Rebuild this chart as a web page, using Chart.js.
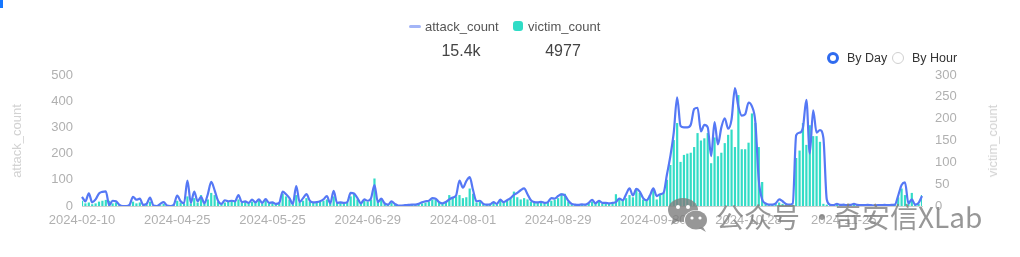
<!DOCTYPE html>
<html>
<head>
<meta charset="utf-8">
<script src="https://cdn.jsdelivr.net/npm/chart.js@4"></script>
<style>
  html,body{margin:0;padding:0;background:#fff;}
  #wrap{position:relative;width:1020px;height:257px;overflow:hidden;font-family:"Liberation Sans",Arial,sans-serif;}
  #c{position:absolute;left:0;top:0;}
  .abs{position:absolute;white-space:nowrap;}
  .lg{font-size:13px;color:#555;line-height:14px;}
  .tot{font-size:16px;color:#444;line-height:18px;transform:translateX(-50%);}
  .rad{font-size:12.5px;color:#333;line-height:14px;}
  .atitle{font-size:13px;color:#d2d2d2;line-height:14px;transform:translate(-50%,-50%) rotate(-90deg);}
  .wm{font-family:"Noto Sans CJK SC",sans-serif;font-size:28px;line-height:30px;color:rgba(125,125,125,0.8);}
</style>
</head>
<body>
<div id="wrap">
  <canvas id="c" width="1020" height="257"></canvas>
  <div class="abs" style="left:0;top:0;width:3px;height:8px;background:#1677ff;"></div>
  <!-- legend -->
  <div class="abs" style="left:409px;top:25px;width:12px;height:3px;border-radius:2px;background:#a3b5f7;"></div>
  <div class="abs lg" style="left:425px;top:20px;">attack_count</div>
  <div class="abs" style="left:513px;top:21px;width:10px;height:10px;border-radius:3px;background:#2fdcc6;"></div>
  <div class="abs lg" style="left:528px;top:20px;">victim_count</div>
  <div class="abs tot" style="left:461px;top:42px;">15.4k</div>
  <div class="abs tot" style="left:563px;top:42px;">4977</div>
  <!-- radio -->
  <div class="abs" style="left:827px;top:52px;width:12px;height:12px;box-sizing:border-box;border:3.5px solid #2f6bef;border-radius:50%;background:#fff;"></div>
  <div class="abs rad" style="left:847px;top:51px;">By Day</div>
  <div class="abs" style="left:892px;top:52px;width:12px;height:12px;box-sizing:border-box;border:1px solid #cfcfcf;border-radius:50%;background:#fff;"></div>
  <div class="abs rad" style="left:912px;top:51px;">By Hour</div>
  <!-- axis titles -->
  <div class="abs atitle" style="left:17px;top:141px;">attack_count</div>
  <div class="abs atitle" style="left:993px;top:141px;">victim_count</div>
  <!-- watermark -->
  <svg class="abs" style="left:667px;top:197px;" width="42" height="36" viewBox="0 0 42 36">
    <ellipse cx="16" cy="13" rx="15" ry="12" fill="rgba(125,125,125,0.8)"/>
    <path d="M6 21 L4 28 L12 23 Z" fill="rgba(125,125,125,0.8)"/>
    <circle cx="11" cy="10" r="2" fill="#fff"/>
    <circle cx="21" cy="10" r="2" fill="#fff"/>
    <ellipse cx="29" cy="23" rx="12" ry="10" fill="#fff"/>
    <ellipse cx="29" cy="23" rx="11" ry="9.5" fill="rgba(125,125,125,0.8)"/>
    <path d="M36 30 L39 35 L32 31 Z" fill="rgba(125,125,125,0.8)"/>
    <circle cx="25" cy="21" r="1.6" fill="#fff"/>
    <circle cx="33" cy="21" r="1.6" fill="#fff"/>
  </svg>
  <div class="abs wm" style="left:716px;top:201px;">公众号</div>
  <div class="abs wm" style="left:808px;top:201px;">·</div>
  <div class="abs wm" style="left:834px;top:201px;">奇安信XLab</div>
</div>
<script>
const dates = [
"2024-02-10","2024-02-11","2024-02-12","2024-02-13","2024-02-14","2024-02-15","2024-02-16","2024-02-17","2024-02-18","2024-02-19",
"2024-02-22","2024-02-26","2024-03-01","2024-03-04","2024-03-08","2024-03-11","2024-03-14","2024-03-18","2024-03-21","2024-03-25",
"2024-03-28","2024-04-01","2024-04-05","2024-04-09","2024-04-13","2024-04-17","2024-04-20","2024-04-23","2024-04-25",
"2024-04-26","2024-04-27","2024-04-28","2024-04-29","2024-04-30","2024-05-01","2024-05-02","2024-05-03","2024-05-04","2024-05-06",
"2024-05-07","2024-05-08","2024-05-09","2024-05-10","2024-05-11","2024-05-12","2024-05-13","2024-05-14","2024-05-15","2024-05-16",
"2024-05-18","2024-05-19","2024-05-20","2024-05-21","2024-05-22","2024-05-23","2024-05-24","2024-05-25",
"2024-05-26","2024-05-27","2024-05-28","2024-05-30","2024-05-31","2024-06-01","2024-06-03","2024-06-04","2024-06-05","2024-06-07",
"2024-06-08","2024-06-09","2024-06-11","2024-06-12","2024-06-13","2024-06-15","2024-06-16","2024-06-17","2024-06-19","2024-06-20",
"2024-06-21","2024-06-23","2024-06-24","2024-06-25","2024-06-26","2024-06-27","2024-06-28","2024-06-29",
"2024-06-30","2024-07-01","2024-07-02","2024-07-03","2024-07-04","2024-07-06","2024-07-07","2024-07-08","2024-07-09","2024-07-10",
"2024-07-11","2024-07-13","2024-07-14","2024-07-15","2024-07-16","2024-07-17","2024-07-18","2024-07-20","2024-07-21","2024-07-22",
"2024-07-23","2024-07-24","2024-07-26","2024-07-27","2024-07-28","2024-07-29","2024-07-31","2024-08-01",
"2024-08-02","2024-08-03","2024-08-04","2024-08-05","2024-08-06","2024-08-07","2024-08-08","2024-08-09","2024-08-10","2024-08-11",
"2024-08-12","2024-08-13","2024-08-14","2024-08-15","2024-08-16","2024-08-17","2024-08-18","2024-08-19","2024-08-20","2024-08-21",
"2024-08-22","2024-08-23","2024-08-24","2024-08-25","2024-08-26","2024-08-27","2024-08-28","2024-08-29",
"2024-08-30","2024-08-31","2024-09-01","2024-09-02","2024-09-04","2024-09-05","2024-09-06","2024-09-07","2024-09-08","2024-09-09",
"2024-09-11","2024-09-12","2024-09-13","2024-09-14","2024-09-15","2024-09-16","2024-09-18","2024-09-19","2024-09-20","2024-09-21",
"2024-09-22","2024-09-23","2024-09-25","2024-09-26","2024-09-27","2024-09-28","2024-09-29","2024-09-30",
"2024-10-01","2024-10-02","2024-10-03","2024-10-04","2024-10-05","2024-10-06","2024-10-07","2024-10-08","2024-10-09","2024-10-10",
"2024-10-11","2024-10-12","2024-10-13","2024-10-14","2024-10-15","2024-10-16","2024-10-17","2024-10-18","2024-10-19","2024-10-20",
"2024-10-21","2024-10-22","2024-10-23","2024-10-24","2024-10-25","2024-10-26","2024-10-27","2024-10-28",
"2024-10-29","2024-10-30","2024-10-31","2024-11-01","2024-11-02","2024-11-03","2024-11-04","2024-11-05","2024-11-06","2024-11-07",
"2024-11-08","2024-11-09","2024-11-10","2024-11-11","2024-11-12","2024-11-13","2024-11-14","2024-11-15","2024-11-16","2024-11-17",
"2024-11-18","2024-11-19","2024-11-20","2024-11-21","2024-11-22","2024-11-23","2024-11-24","2024-11-25",
"2024-11-26","2024-11-27","2024-11-28","2024-11-29","2024-11-30","2024-12-01","2024-12-02","2024-12-03","2024-12-04","2024-12-05",
"2024-12-06","2024-12-07","2024-12-08","2024-12-09","2024-12-10","2024-12-11","2024-12-12","2024-12-13","2024-12-14","2024-12-15",
"2024-12-16","2024-12-17","2024-12-18"
];

const attackCount = [
35,18,48,14,25,48,54,56,3,20,
18,4,0,0,5,35,24,28,4,8,
32,2,0,8,15,2,0,5,40,18,
10,97,12,55,18,35,10,45,92,60,
20,8,22,18,20,18,42,15,18,12,
24,14,25,12,26,12,14,8,12,55,
45,30,8,76,15,30,45,20,14,15,
18,25,38,10,58,12,14,12,15,50,
48,30,10,25,20,30,80,15,28,10,
5,18,8,2,2,3,4,5,5,8,
14,18,20,30,28,15,10,15,25,32,
40,97,70,95,110,60,18,20,8,5,
6,15,8,24,15,22,30,42,50,60,
67,45,22,15,14,16,12,15,30,28,
38,44,40,20,8,5,4,6,5,12,
23,10,20,12,12,10,12,15,28,22,
45,67,40,65,55,30,22,40,67,38,
45,50,120,190,280,415,305,300,300,310,
370,375,285,310,300,190,320,235,300,335,
295,330,450,380,345,350,395,380,320,100,
25,10,5,5,10,25,18,8,5,10,
270,280,300,405,200,365,280,290,260,25,
5,3,8,4,5,3,4,8,4,3,
3,4,3,2,3,3,4,3,4,5,
40,80,90,10,25,5,12,38
];

const victimCount = [
12,6,8,4,6,10,12,14,12,6,
8,3,0,0,2,10,6,8,2,3,
10,1,0,2,5,1,0,2,12,8,
5,22,6,18,8,25,5,15,30,25,
10,4,8,10,12,10,15,8,10,6,
10,8,12,6,12,6,8,4,6,28,
22,15,4,25,8,12,18,10,8,8,
10,12,15,6,22,8,8,6,8,22,
29,15,6,12,10,15,63,10,15,5,
3,8,4,1,1,2,2,3,3,4,
6,8,10,15,14,8,6,10,25,20,
22,25,18,20,40,28,8,10,4,3,
3,8,4,12,8,12,18,33,20,15,
18,15,10,8,7,8,6,8,12,14,
18,29,28,10,4,2,2,3,2,6,
10,5,10,6,6,5,8,27,15,12,
18,25,20,40,30,15,12,25,40,15,
25,30,60,94,151,190,101,117,120,122,
135,167,150,155,167,98,157,114,122,144,
163,175,135,254,130,130,145,212,190,135,
55,5,2,3,4,8,5,3,2,3,
110,127,190,140,185,160,160,147,5,3,
2,1,3,2,4,2,2,5,3,2,
2,3,2,1,2,2,3,2,3,4,
20,40,25,5,30,3,5,25
];

const leftTicks = [0,100,200,300,400,500];
const rightTicks = [0,50,100,150,200,250,300];
const tickEvery = 28;

Chart.defaults.font.family = '"Liberation Sans", Arial, sans-serif';

new Chart(document.getElementById('c').getContext('2d'), {
  data: {
    labels: dates,
    datasets: [
      {
        type: 'line', label: 'attack_count', data: attackCount, yAxisID: 'y',
        borderColor: '#5578f5', borderWidth: 2.2, pointRadius: 0,
        cubicInterpolationMode: 'monotone', order: 0
      },
      {
        type: 'bar', label: 'victim_count', data: victimCount, yAxisID: 'y1',
        backgroundColor: '#33dcc6', barPercentage: 0.65, categoryPercentage: 1, order: 1
      }
    ]
  },
  options: {
    responsive: false, animation: false, devicePixelRatio: 1,
    layout: { padding: { top: 75, left: 0, right: 0, bottom: 0 } },
    plugins: { legend: { display: false }, tooltip: { enabled: false } },
    scales: {
      x: {
        type: 'category', offset: false,
        grid: { display: false, drawTicks: false },
        border: { display: true, color: '#d0d0d0', width: 1 },
        ticks: {
          autoSkip: false, maxRotation: 0, minRotation: 0, padding: 7,
          color: '#b0b0b0', font: { size: 13 },
          callback: (v, i) => (i % tickEvery === 0 ? dates[i] : '')
        },
        afterFit: s => { s.height = 51; }
      },
      y: {
        position: 'left', min: leftTicks[0], max: leftTicks[leftTicks.length - 1],
        grid: { display: false, drawTicks: false }, border: { display: false },
        afterBuildTicks: s => { s.ticks = leftTicks.map(v => ({ value: v })); },
        ticks: { padding: 9, color: '#b0b0b0', font: { size: 13 } },
        afterFit: s => { s.width = 82; }
      },
      y1: {
        position: 'right', min: rightTicks[0], max: rightTicks[rightTicks.length - 1],
        grid: { display: false, drawTicks: false }, border: { display: false },
        afterBuildTicks: s => { s.ticks = rightTicks.map(v => ({ value: v })); },
        ticks: { padding: 13, color: '#b0b0b0', font: { size: 13 } },
        afterFit: s => { s.width = 98; }
      }
    }
  }
});
</script>
</body>
</html>
